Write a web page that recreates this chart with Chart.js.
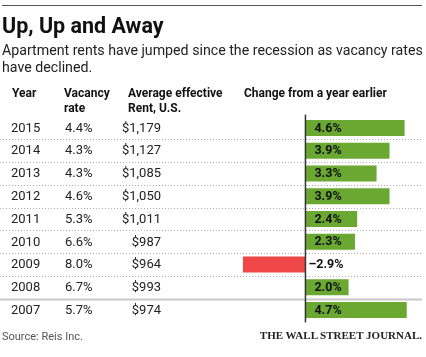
<!DOCTYPE html>
<html><head><meta charset="utf-8">
<script src="https://cdn.jsdelivr.net/npm/chart.js@4/dist/chart.umd.min.js"></script>
<style>
html,body{margin:0;padding:0;background:#fff;}
#wrap{position:relative;width:426px;height:357px;overflow:hidden;font-family:Roboto,"Noto Sans",sans-serif;color:#111;}
canvas{position:absolute;left:0;top:0;}
.rule{position:absolute;left:2px;top:5px;width:420px;height:0;border-top:1px solid #555;}
.title{position:absolute;left:2px;top:13px;font-weight:700;font-size:21.5px;line-height:26px;white-space:nowrap;}
.sub{position:absolute;left:2px;top:42px;font-size:14.2px;line-height:17px;width:424px;color:#222;}
.hdr{position:absolute;top:86px;font-weight:700;font-size:12px;line-height:15px;white-space:nowrap;}
.src{position:absolute;left:2px;top:330px;font-size:11px;color:#555;}
.wsj{position:absolute;right:4px;top:329px;font-family:"Liberation Serif","DejaVu Serif",serif;font-weight:700;font-size:11px;color:#222;white-space:nowrap;}
</style>
</head><body>
<div id="wrap">
<canvas id="c" width="426" height="357"></canvas>
<div class="rule"></div>
<div class="title">Up, Up and Away</div>
<div class="sub">Apartment rents have jumped since the recession as vacancy rates have declined.</div>
<div class="hdr" style="left:12px">Year</div>
<div class="hdr" style="left:64px">Vacancy<br>rate</div>
<div class="hdr" style="left:128px">Average effective<br>Rent, U.S.</div>
<div class="hdr" style="left:244px">Change from a year earlier</div>
<div class="src">Source: Reis Inc.</div>
<div class="wsj">THE WALL STREET JOURNAL.</div>
</div>
<script>
const years = ['2015','2014','2013','2012','2011','2010','2009','2008','2007'];
const vacancyRates = [4.4, 4.3, 4.3, 4.6, 5.3, 6.6, 8.0, 6.7, 5.7];
const rents = [1179, 1127, 1085, 1050, 1011, 987, 964, 993, 974];
const changes = [4.6, 3.9, 3.3, 3.9, 2.4, 2.3, -2.9, 2.0, 4.7];

const fmtPct = v => (v < 0 ? '\u2013' : '') + Math.abs(v).toFixed(1) + '%';
const fmtRent = v => '$' + v.toLocaleString('en-US');

const tablePlugin = {
  id: 'tablePlugin',
  beforeDatasetsDraw(chart) {
    const ctx = chart.ctx, y = chart.scales.y;
    ctx.save();
    for (let i = 0; i < years.length - 1; i++) {
      const yy = Math.round((y.getPixelForValue(i) + y.getPixelForValue(i + 1)) / 2) + 0.5;
      ctx.beginPath();
      if (i === years.length - 2) {
        ctx.setLineDash([]); ctx.strokeStyle = '#c8c8c8'; ctx.lineWidth = 2;
      } else {
        ctx.setLineDash([1, 2]); ctx.strokeStyle = '#aaa'; ctx.lineWidth = 1;
      }
      ctx.moveTo(0, yy); ctx.lineTo(422, yy); ctx.stroke();
    }
    ctx.restore();
  },
  afterDatasetsDraw(chart) {
    const ctx = chart.ctx, y = chart.scales.y, x = chart.scales.x, ca = chart.chartArea;
    const x0 = x.getPixelForValue(0);
    ctx.save();
    ctx.strokeStyle = '#333'; ctx.lineWidth = 1.5;
    ctx.beginPath(); ctx.moveTo(x0, ca.top - 2); ctx.lineTo(x0, ca.bottom + 1); ctx.stroke();
    ctx.textBaseline = 'middle';
    ctx.fillStyle = '#222';
    ctx.font = '13px Roboto, "Noto Sans", sans-serif';
    years.forEach((yr, i) => {
      const yy = y.getPixelForValue(i) + 0.5;
      ctx.textAlign = 'left';
      ctx.fillText(yr, 11, yy);
      ctx.fillText(vacancyRates[i].toFixed(1) + '%', 65, yy);
      ctx.textAlign = 'right';
      ctx.fillText(fmtRent(rents[i]), 161, yy);
    });
    ctx.font = 'bold 12.5px Roboto, "Noto Sans", sans-serif';
    ctx.fillStyle = '#111';
    ctx.textAlign = 'left';
    changes.forEach((v, i) => {
      const yy = y.getPixelForValue(i) + 0.5;
      ctx.fillText(fmtPct(v), v < 0 ? x0 + 3 : x0 + 9, yy);
    });
    ctx.restore();
  }
};

new Chart(document.getElementById('c'), {
  type: 'bar',
  data: {
    labels: years,
    datasets: [{
      data: changes,
      backgroundColor: changes.map(v => v < 0 ? '#f04848' : '#6aa832'),
      borderWidth: 0,
      barPercentage: 0.7,
      categoryPercentage: 1
    }]
  },
  options: {
    indexAxis: 'y',
    responsive: false,
    animation: false,
    layout: { padding: { left: 230, right: 2, top: 116.6, bottom: 35.6 } },
    scales: {
      x: { type: 'linear', min: -3.5, max: 5.5, display: false },
      y: { display: false }
    },
    plugins: { legend: { display: false }, tooltip: { enabled: false } }
  },
  plugins: [tablePlugin]
});
</script>
</body></html>
